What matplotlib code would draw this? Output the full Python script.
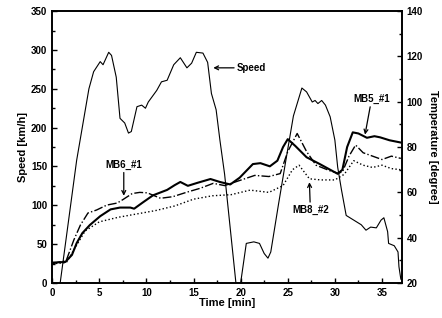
import matplotlib.pyplot as plt
from matplotlib.ticker import MultipleLocator

# Speed trace (left axis)
speed_t = [0.85, 2.6, 3.9, 4.4, 5.1, 5.4, 6.0, 6.3, 6.8, 7.2, 7.7, 8.1, 8.4, 9.0, 9.5, 9.9,
           10.2, 11.1, 11.6, 12.2, 12.9, 13.6, 14.3, 14.8, 15.3, 16.0, 16.5, 16.9, 17.4, 17.8,
           18.3, 19.5, 20.0, 20.6, 21.4, 22.0, 22.5, 22.9, 23.2, 24.0, 24.8, 25.6, 26.5, 27.0,
           27.6, 27.9, 28.2, 28.6, 29.0, 29.5, 30.0, 30.3, 30.7, 31.2, 32.0, 32.8, 33.3, 33.8,
           34.4, 34.9, 35.2, 35.6, 35.7, 36.3, 36.7, 36.8, 37.0]
speed = [0, 158, 250, 272, 285, 281, 297, 293, 265, 212, 206, 193, 195, 227, 229, 225,
         233, 248, 259, 261, 281, 290, 277, 283, 297, 296, 284, 244, 223, 184,
         140, 0, 0, 51, 53, 51, 38, 32, 40, 100, 158, 215, 251, 246,
         233, 235, 231, 235, 229, 214, 184, 149, 120, 87, 81, 75, 68, 72,
         71, 81, 84, 66, 51, 48, 40, 21, 5]

# Temperatures (right axis)
mb5_t = [0, 1.4, 2.1, 2.6, 3.2, 4.0, 5.1, 6.2, 7.2, 8.3, 8.7, 9.6, 10.7, 12.2, 13.0, 13.6,
         14.4, 15.4, 16.8, 17.8, 18.9, 19.9, 21.3, 22.1, 23.1, 23.9, 24.5, 25.0, 25.8, 27.0,
         28.4, 29.5, 30.3, 30.8, 31.3, 31.9, 32.5, 33.4, 34.2, 34.8, 35.8, 37.0]
mb5 = [29, 29.3, 32.4, 37.6, 42, 45.6, 49.5, 52.5, 53.3, 53.3, 52.8, 55.5, 58.7, 61.1, 63.2, 64.6,
       62.9, 64.2, 65.9, 64.6, 63.5, 66.5, 72.5, 72.9, 71.5, 74, 80, 83.5, 80.5, 75.5,
       72.5, 70, 68.2, 70, 80, 86.5, 86, 84.1, 84.8, 84.3, 83, 82]

mb6_t = [0, 1.5, 2.3, 3.0, 3.8, 4.7, 5.8, 6.9, 7.5, 8.5, 9.3, 10.1, 11.5, 12.8, 14.3, 15.7,
         17.1, 18.3, 20.0, 21.5, 23.0, 24.2, 25.0, 26.0, 27.0, 28.0, 29.5, 30.3, 30.8, 31.5,
         32.2, 33.0, 34.0, 35.0, 36.0, 37.0]
mb6 = [28.5, 30, 39, 45.6, 50.9, 52.2, 54.4, 55.3, 56.8, 59.5, 60, 59.8, 57.4, 58.1, 60.1, 61.8,
       64, 63, 65.4, 67.5, 67, 68.3, 78, 86, 78, 72, 69.5, 68.5, 69, 76,
       80.9, 77.5, 76, 74.5, 76, 75]

mb8_t = [0, 1.5, 2.5, 3.5, 5.0, 7.0, 9.0, 11.0, 13.0, 15.0, 17.0, 19.0, 21.0, 23.0, 24.5,
         25.5, 26.2, 27.3, 28.5, 30.0, 31.0, 32.0, 33.0, 34.0, 35.0, 36.0, 37.0]
mb8 = [28.5, 29, 36, 43, 47, 49, 50.5, 52, 54, 57, 58.5, 59, 61, 60, 63,
       70, 72, 66, 65.5, 65.5, 68, 74, 72, 71, 72, 70.5, 70]

plt.rcParams['font.family'] = ['Liberation Sans', 'DejaVu Sans']
plt.rcParams['font.weight'] = 'bold'

fig = plt.figure(figsize=(4.42, 3.18), dpi=100)
ax = fig.add_axes([0.118, 0.110, 0.791, 0.855])
ax2 = ax.twinx()

ax.plot(speed_t, speed, color='black', lw=0.8)
ax2.plot(mb5_t, mb5, color='black', lw=1.5)
ax2.plot(mb6_t, mb6, color='black', lw=1.0, ls='-.')
ax2.plot(mb8_t, mb8, color='black', lw=1.0, ls=':')

ax.set_xlim(0, 37.1)
ax.set_ylim(0, 350)
ax2.set_ylim(20, 140)

ax.xaxis.set_major_locator(MultipleLocator(5))
ax.xaxis.set_minor_locator(MultipleLocator(2.5))
ax.yaxis.set_major_locator(MultipleLocator(50))
ax.yaxis.set_minor_locator(MultipleLocator(25))
ax2.yaxis.set_major_locator(MultipleLocator(20))
ax2.yaxis.set_minor_locator(MultipleLocator(10))

for a in (ax, ax2):
    a.tick_params(which='both', direction='in', labelsize=7, width=1)
    a.tick_params(which='major', length=3.5)
    a.tick_params(which='minor', length=2)
    for lab in a.get_xticklabels() + a.get_yticklabels():
        lab.set_fontweight('bold')
    for s in a.spines.values():
        s.set_linewidth(1.2)

ax.set_xlabel('Time [min]', fontsize=8, fontweight='bold', labelpad=0)
ax.set_ylabel('Speed [km/h]', fontsize=8, fontweight='bold', labelpad=2)
ax2.set_ylabel('Temperature [degree]', fontsize=8, fontweight='bold', rotation=270, labelpad=11)

arrow = dict(arrowstyle='->', color='black', lw=0.9, shrinkA=0, shrinkB=0)
ax.annotate('Speed', xy=(17.1, 277), xytext=(19.6, 277), fontsize=7, fontweight='bold',
            va='center', arrowprops=arrow)
ax2.annotate('MB5_#1', xy=(33.2, 85.5), xytext=(33.9, 99), fontsize=7, fontweight='bold',
             ha='center', va='bottom', arrowprops=arrow)
ax2.annotate('MB6_#1', xy=(7.6, 58.5), xytext=(7.6, 70), fontsize=7, fontweight='bold',
             ha='center', va='bottom', arrowprops=arrow)
ax2.annotate('MB8_#2', xy=(27.3, 64.5), xytext=(27.4, 54.5), fontsize=7, fontweight='bold',
             ha='center', va='top', arrowprops=arrow)

fig.savefig('out.png', dpi=100)
